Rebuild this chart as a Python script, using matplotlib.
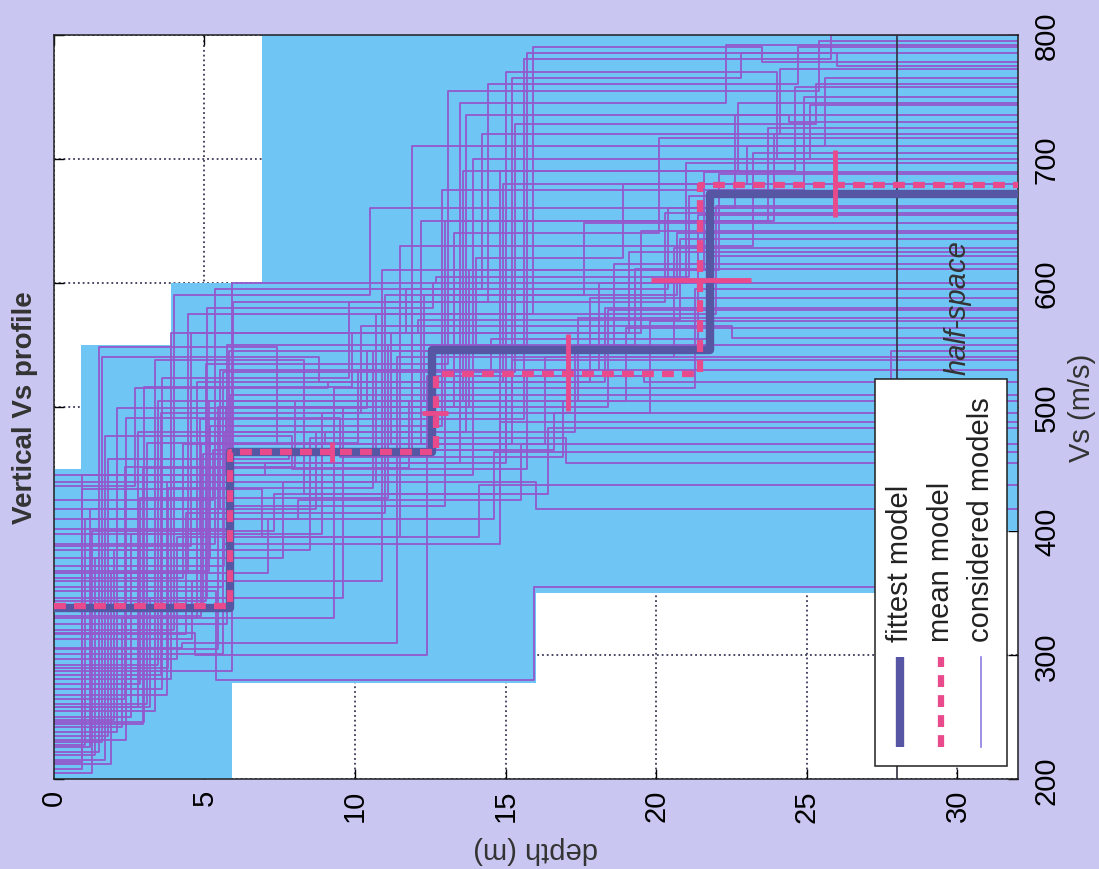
import matplotlib
matplotlib.use('Agg')
import matplotlib.pyplot as plt
from matplotlib.patches import Rectangle

plt.rcParams['font.family'] = ['Liberation Sans', 'DejaVu Sans']

# axis range (depth in m, Vs in m/s)
depth_max = 32
depth_ticks = [0, 5, 10, 15, 20, 25, 30]
vs_ticks = [200, 300, 400, 500, 600, 700, 800]

# shaded envelope of the considered models (layer edges, lower / upper Vs)
env_depth = [0, 0.9, 3.9, 5.9, 6.9, 16.0, 28.0, 32]
env_lo = [200, 200, 200, 278, 278, 350, 400, 400]
env_hi = [450, 550, 600, 600, 800, 800, 800, 800]

# considered models: interface depths d1..d3 and Vs of layers 1..3 + half-space
d1 = [4.3, 1.5, 5.6, 2.7, 5.9, 3.35, 0.95, 5.1, 4.85, 2.1, 5.75, 3.6, 1.7, 5.35, 2.95, 4.6, 5.85, 1.2, 3.9, 5.95,
      2.4, 4.1, 5.5, 3.1, 1.9, 5.2, 4.45, 2.55, 5.7, 3.75, 1.35, 4.95, 5.8, 2.25, 3.45, 5.4, 4.0, 1.05, 5.65, 2.85,
      4.75, 3.2, 5.9, 1.8, 4.25, 5.05, 2.0, 3.55, 5.3, 4.7,
      5.45, 2.35, 4.55, 0.95, 5.6, 3.0, 4.9, 1.6, 5.95, 3.8, 2.8, 5.15, 4.4, 1.25, 5.75]
v1 = [362, 222, 301, 436, 287, 255, 208, 346, 398, 238, 325, 273, 216, 390, 245, 313, 336, 226, 281, 360,
      232, 297, 418, 261, 212, 378, 366, 250, 445, 268, 220, 340, 410, 242, 292, 352, 320, 228, 372, 277,
      330, 258, 385, 235, 306, 344, 248, 284, 425, 318,
      305, 265, 388, 214, 355, 246, 332, 230, 402, 290, 258, 368, 317, 205, 440]
d2 = [11.2, 7.4, 14.8, 9.1, 13.5, 8.3, 6.9, 12.6, 15.6, 10.4, 13.0, 9.8, 7.9, 14.2, 11.8, 10.9, 15.2, 8.7, 12.1, 13.9,
      9.5, 11.5, 14.5, 10.1, 7.1, 12.9, 15.9, 8.9, 13.3, 10.7, 7.6, 11.9, 14.0, 9.3, 12.3, 15.95, 10.5, 8.1, 13.7, 11.1,
      14.9, 9.6, 12.7, 7.8, 11.4, 13.1, 8.5, 10.2, 15.0, 12.4,
      13.8, 8.0, 11.7, 7.0, 15.3, 9.9, 12.2, 8.8, 14.4, 10.6, 9.0, 13.6, 11.0, 7.3, 15.7]
v2 = [470, 548, 390, 515, 455, 538, 434, 580, 490, 499, 420, 523, 477, 595, 451, 360, 510, 418, 560, 445,
      491, 395, 530, 471, 366, 485, 575, 398, 500, 440, 378, 462, 545, 330, 505, 280, 590, 410, 480, 427,
      520, 346, 600, 458, 310, 535, 385, 495, 465, 300,
      500, 452, 560, 445, 528, 516, 470, 540, 585, 435, 480, 505, 415, 400, 550]
d3 = [19.5, 15.2, 24.6, 17.8, 22.3, 16.4, 14.1, 21.0, 25.8, 18.6, 23.7, 20.3, 15.7, 24.1, 19.0, 21.6, 22.8, 17.3, 20.8, 25.1,
      16.9, 23.2, 21.9, 18.1, 14.6, 24.9, 23.5, 19.8, 20.1, 22.0, 16.0, 25.6, 18.9, 21.3, 17.6, 27.8, 22.6, 15.5, 24.4, 19.3,
      23.0, 18.4, 21.1, 16.6, 20.6, 25.4, 17.0, 22.5, 24.0, 19.6,
      22.1, 17.4, 20.4, 15.0, 25.3, 19.1, 23.9, 18.3, 24.7, 21.4, 16.3, 22.7, 20.7, 14.8, 26.0]
v3 = [560, 470, 690, 520, 745, 430, 395, 600, 780, 545, 650, 585, 450, 720, 505, 610, 765, 480, 570, 700,
      460, 630, 555, 530, 410, 675, 790, 495, 640, 575, 440, 710, 620, 515, 590, 355, 660, 425, 735, 550,
      680, 500, 605, 465, 540, 755, 475, 565, 770, 525,
      610, 505, 595, 455, 728, 560, 650, 520, 760, 545, 470, 690, 590, 430, 785]
v4 = [642, 538, 758, 588, 792, 483, 437, 697, 800, 615, 725, 656, 530, 772, 564, 689, 785, 550, 635, 743,
      505, 705, 622, 600, 464, 750, 778, 569, 717, 662, 418, 765, 680, 595, 648, 545, 735, 470, 730, 611,
      710, 578, 670, 495, 628, 795, 455, 556, 700, 520,
      688, 572, 660, 510, 760, 625, 720, 580, 790, 655, 540, 745, 640, 488, 775]

# fittest and mean models (layer tops, Vs)
fit_depth = [0, 5.84, 12.55, 21.77]
fit_vs = [338, 464, 546, 672]
mean_depth = [0, 5.85, 12.68, 21.46]
mean_vs = [340, 464, 527, 679]

# standard deviations of the mean model
vs_err_depth = [9.22, 17.07, 25.92]
vs_err_vs = [464, 528, 680]
vs_err = [8, 31, 27]
th_err_depth = [12.66, 21.5]
th_err_vs = [495, 602]
th_err = [0.43, 1.66]

halfspace_depth = 28.0

bg = '#c9c7f1'
cyan = '#6fc5f3'
purple = '#9358cc'
dark = '#5656a4'
pink = '#e84a8c'

fig = plt.figure(figsize=(10.99, 8.70), dpi=100, facecolor=bg)
ax = fig.add_axes([0.049, 0.103, 0.877, 0.856])
ax.set_xlim(0, depth_max)
ax.set_ylim(200, 800)
ax.set_axisbelow(True)
ax.grid(True, linestyle=':', color='#3a3a5a', lw=1.3)

ax.fill_between(env_depth, env_lo, env_hi, step='post', color=cyan, lw=0, zorder=1)

for i in range(len(d1)):
    ax.step([0, d1[i], d2[i], d3[i], depth_max], [v1[i], v2[i], v3[i], v4[i], v4[i]],
            where='post', color=purple, lw=1.3, zorder=2)

ax.plot([halfspace_depth, halfspace_depth], [200, 800], color='#303040', lw=1.2, zorder=3)
ax.text(30.0, 527, 'half-space', rotation=90, rotation_mode='anchor', ha='left', va='center',
        style='italic', fontsize=21, color='#333333', zorder=3)

ax.step(fit_depth + [depth_max], fit_vs + [fit_vs[-1]], where='post', color=dark, lw=6, zorder=5)
ax.step(mean_depth + [depth_max], mean_vs + [mean_vs[-1]], where='post', color=pink, lw=4.5,
        linestyle=(0, (1.9, 1.3)), zorder=6)
ax.errorbar(vs_err_depth, vs_err_vs, yerr=vs_err, fmt='none', ecolor=pink, elinewidth=3.5, capsize=0, zorder=7)
ax.errorbar(th_err_depth, th_err_vs, xerr=th_err, fmt='none', ecolor=pink, elinewidth=3.5, capsize=0, zorder=7)

ax.set_xticks(depth_ticks)
ax.set_xticklabels([str(t) for t in depth_ticks], rotation=90, ha='center', va='top', fontsize=21)
ax.set_yticks(vs_ticks)
ax.yaxis.tick_right()
ax.set_yticklabels([str(t) for t in vs_ticks], rotation=90, ha='left', va='center', fontsize=21)
ax.tick_params(direction='in', length=7, width=1, top=True, bottom=True, left=True, right=True,
               labelleft=False, labelright=True)
ax.tick_params(axis='x', pad=7)
ax.tick_params(axis='y', pad=11)
for s in ax.spines.values():
    s.set_linewidth(1.1)
    s.set_color('#202020')

ax.text(-0.030, 0.5, 'Vertical Vs profile', transform=ax.transAxes, rotation=90, ha='center', va='center',
        fontsize=20, fontweight='bold', color='#333333')
ax.text(0.5, -0.094, 'depth (m)', transform=ax.transAxes, rotation=180, ha='center', va='center',
        fontsize=21, color='#333333')
ax.text(1.067, 0.5, 'Vs (m/s)', transform=ax.transAxes, rotation=90, ha='center', va='center',
        fontsize=21, color='#333333')

# legend box drawn by hand so its entries can be turned with the rest of the chart
ax.add_patch(Rectangle((0.852, 0.0175), 0.1366, 0.52, transform=ax.transAxes, fc='white',
                       ec='#202020', lw=1.1, zorder=10))
leg_x = [0.8776, 0.920, 0.9616]
ax.plot([leg_x[0]] * 2, [0.043, 0.165], transform=ax.transAxes, color=dark, lw=6, zorder=11,
        solid_capstyle='butt')
ax.plot([leg_x[1]] * 2, [0.043, 0.165], transform=ax.transAxes, color=pink, lw=4.5,
        linestyle=(0, (1.9, 1.3)), zorder=11)
ax.plot([leg_x[2]] * 2, [0.043, 0.165], transform=ax.transAxes, color='#8f7ce0', lw=1.2, zorder=11)
for x, label in zip(leg_x, ['fittest model', 'mean model', 'considered models']):
    ax.text(x, 0.186, label, transform=ax.transAxes, rotation=90, rotation_mode='anchor',
            ha='left', va='center', fontsize=21, color='#222222', zorder=12)

fig.savefig('out.png', dpi=100, facecolor=bg)
